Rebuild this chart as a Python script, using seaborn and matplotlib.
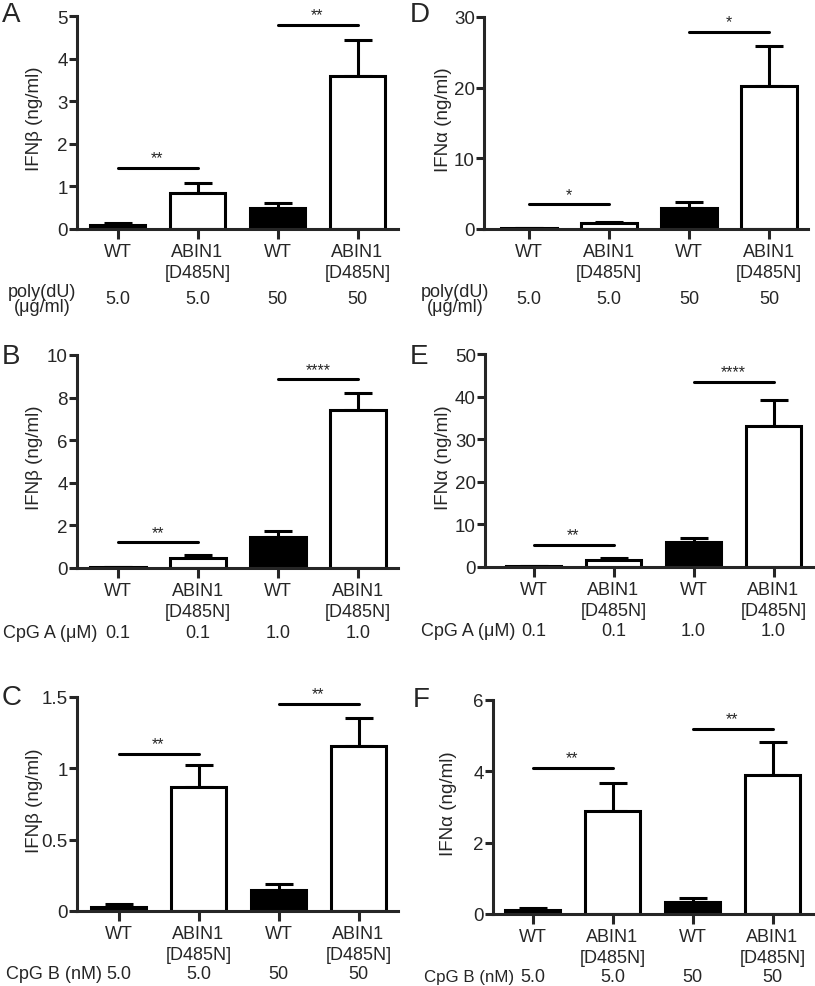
import numpy as np
import matplotlib
matplotlib.use("Agg")
import matplotlib.pyplot as plt
import matplotlib.transforms as mtransforms
import seaborn as sns

genotypes = ["WT", "ABIN1\n[D485N]", "WT", "ABIN1\n[D485N]"]
bar_colors = ["black", "white", "black", "white"]

# panel A: IFNb, poly(dU)
a_mean = [0.1, 0.85, 0.49, 3.6]
a_sem = [0.03, 0.22, 0.13, 0.83]
a_sig = [1.43, 4.8]
a_stars = ["**", "**"]
a_dose = ["5.0", "5.0", "50", "50"]

# panel B: IFNb, CpG A
b_mean = [0.05, 0.45, 1.45, 7.4]
b_sem = [0.01, 0.15, 0.3, 0.8]
b_sig = [1.2, 8.85]
b_stars = ["**", "****"]
b_dose = ["0.1", "0.1", "1.0", "1.0"]

# panel C: IFNb, CpG B
c_mean = [0.03, 0.87, 0.15, 1.16]
c_sem = [0.02, 0.15, 0.04, 0.19]
c_sig = [1.1, 1.45]
c_stars = ["**", "**"]
c_dose = ["5.0", "5.0", "50", "50"]

# panel D: IFNa, poly(dU)
d_mean = [0.1, 0.8, 3.0, 20.2]
d_sem = [0.05, 0.2, 0.8, 5.7]
d_sig = [3.5, 27.9]
d_stars = ["*", "*"]
d_dose = ["5.0", "5.0", "50", "50"]

# panel E: IFNa, CpG A
e_mean = [0.2, 1.6, 5.9, 33.0]
e_sem = [0.05, 0.5, 0.8, 6.2]
e_sig = [5.2, 43.5]
e_stars = ["**", "****"]
e_dose = ["0.1", "0.1", "1.0", "1.0"]

# panel F: IFNa, CpG B
f_mean = [0.1, 2.9, 0.35, 3.9]
f_sem = [0.06, 0.77, 0.09, 0.93]
f_sig = [4.1, 5.2]
f_stars = ["**", "**"]
f_dose = ["5.0", "5.0", "50", "50"]

sns.set_theme(style="ticks")
plt.rcParams['font.family'] = ['Liberation Sans', 'DejaVu Sans']

W, H = 815, 987
fig = plt.figure(figsize=(W / 100, H / 100), dpi=100)
LW = 2.2
FS = 13


def px_axes(left, top, right, bottom):
    return fig.add_axes([left / W, 1 - bottom / H, (right - left) / W, (bottom - top) / H])


def draw_panel(box, first_px, ylabel_px, mean, sem, ymax, yticks, yticklabels, ylabel,
               sig, stars, dose, dose_y):
    left, top, right, bottom = box
    ax = px_axes(left, top, right, bottom)
    ids = ["g0", "g1", "g2", "g3"]
    sns.barplot(x=ids, y=mean, hue=ids, palette=bar_colors, legend=False,
                width=0.69, edgecolor="black", linewidth=LW, saturation=1, ax=ax, zorder=2)
    ax.errorbar(range(4), mean, yerr=[np.zeros(4), sem], fmt="none", ecolor="black",
                elinewidth=LW, capsize=10, capthick=LW, zorder=1)
    step = 80.0
    ax.set_xlim((left - first_px) / step, (right - first_px) / step)
    ax.set_ylim(0, ymax)
    ax.set_yticks(yticks)
    ax.set_yticklabels(yticklabels)
    ax.set_xticks(range(4))
    ax.set_xticklabels(genotypes, linespacing=1.3)
    ax.set_ylabel(ylabel, fontsize=13.5)
    # right edge of the rotated label sits at ylabel_px
    ax.yaxis.set_label_coords((ylabel_px - left) / (right - left), 0.52)
    ax.tick_params(axis="x", length=7, width=LW, labelsize=FS, pad=3)
    ax.tick_params(axis="y", length=6, width=LW, labelsize=13.5, pad=0.5)
    sns.despine(ax=ax)
    for s in ["left", "bottom"]:
        ax.spines[s].set_linewidth(LW)
    for i, (h, st) in enumerate(zip(sig, stars)):
        x0, x1 = 2 * i, 2 * i + 1
        ax.plot([x0, x1], [h, h], color="black", lw=LW, clip_on=False)
        ax.text((x0 + x1) / 2, h + ymax * 0.012, st, ha="center", va="bottom", fontsize=11.5)
    tr = mtransforms.blended_transform_factory(ax.transData, fig.transFigure)
    for i, d in enumerate(dose):
        ax.text(i, 1 - dose_y / H, d, transform=tr, ha="center", va="center", fontsize=FS)
    return ax


draw_panel((77, 17, 398, 230), 117.5, 43, a_mean, a_sem, 5, [0, 1, 2, 3, 4, 5],
           ["0", "1", "2", "3", "4", "5"], "IFNβ (ng/ml)", a_sig, a_stars, a_dose, 300)

draw_panel((77, 356, 398, 569), 118, 43, b_mean, b_sem, 10, [0, 2, 4, 6, 8, 10],
           ["0", "2", "4", "6", "8", "10"], "IFNβ (ng/ml)", b_sig, b_stars, b_dose, 633)

draw_panel((77, 698, 398, 912), 118.5, 43, c_mean, c_sem, 1.5, [0, 0.5, 1, 1.5],
           ["0", "0.5", "1", "1.5"], "IFNβ (ng/ml)", c_sig, c_stars, c_dose, 975)

draw_panel((484, 18, 808, 230), 529, 452, d_mean, d_sem, 30, [0, 10, 20, 30],
           ["0", "10", "20", "30"], "IFNα (ng/ml)", d_sig, d_stars, d_dose, 300)

draw_panel((485, 355, 813, 568), 533.5, 452, e_mean, e_sem, 50, [0, 10, 20, 30, 40, 50],
           ["0", "10", "20", "30", "40", "50"], "IFNα (ng/ml)", e_sig, e_stars, e_dose, 632)

draw_panel((493, 701, 815, 915), 532.5, 457, f_mean, f_sem, 6, [0, 2, 4, 6],
           ["0", "2", "4", "6"], "IFNα (ng/ml)", f_sig, f_stars, f_dose, 978)

# condition row labels
fig.text(42 / W, 1 - 300 / H, "poly(dU)\n(μg/ml)", ha="center", va="center", fontsize=FS, linespacing=0.85)
fig.text(455 / W, 1 - 300 / H, "poly(dU)\n(μg/ml)", ha="center", va="center", fontsize=FS, linespacing=0.85)
fig.text(3 / W, 1 - 633 / H, "CpG A (μM)", ha="left", va="center", fontsize=FS)
fig.text(421 / W, 1 - 632 / H, "CpG A (μM)", ha="left", va="center", fontsize=FS)
fig.text(6 / W, 1 - 975 / H, "CpG B (nM)", ha="left", va="center", fontsize=FS)
fig.text(424 / W, 1 - 978 / H, "CpG B (nM)", ha="left", va="center", fontsize=12.2)

# panel letters
for letter, x, y in [("A", 2, 15), ("B", 2, 357), ("C", 2, 698),
                     ("D", 410, 15), ("E", 410, 357), ("F", 413, 700)]:
    fig.text(x / W, 1 - y / H, letter, ha="left", va="center", fontsize=20)

fig.savefig("out.png", dpi=100)
